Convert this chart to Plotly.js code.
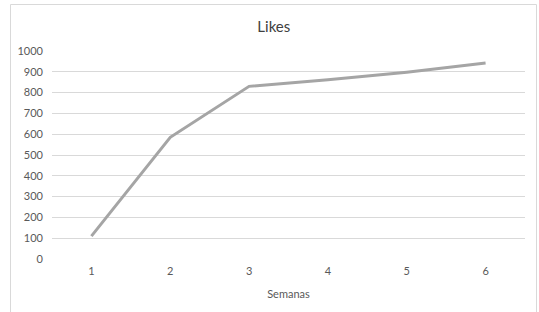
<!DOCTYPE html>
<html>
<head>
<meta charset="utf-8">
<script src="https://cdn.plot.ly/plotly-3.0.1.min.js"></script>
<style>html,body{margin:0;padding:0;background:#fff;}#chart{width:539px;height:312px;}</style>
</head>
<body>
<div id="chart"></div>
<script>
const semanas = [1, 2, 3, 4, 5, 6];
const likes = [110, 585, 830, 862, 898, 942];
const yTicks = [0, 100, 200, 300, 400, 500, 600, 700, 800, 900, 1000];

const trace = {
  x: semanas,
  y: likes,
  type: 'scatter',
  mode: 'lines',
  line: {color: '#a5a5a5', width: 3},
  hoverinfo: 'none'
};

const layout = {
  width: 539,
  height: 312,
  margin: {l: 52, r: 14, t: 51, b: 53},
  paper_bgcolor: '#ffffff',
  plot_bgcolor: '#ffffff',
  showlegend: false,
  font: {family: 'Lato, "Open Sans", sans-serif', color: '#595959', size: 11},
  title: {text: 'Likes', font: {size: 15, color: '#404040', family: 'Lato, "Open Sans", sans-serif'}, x: 0.508, xanchor: 'center', y: 0.915, yanchor: 'middle', xref: 'container', yref: 'container'},
  xaxis: {
    range: [0.5, 6.5],
    tickvals: semanas,
    ticktext: semanas.map(String),
    showgrid: false,
    zeroline: false,
    showline: false,
    ticks: '',
    ticklabelstandoff: 4,
    tickfont: {size: 11, color: '#595959'},
    title: {text: 'Semanas', font: {size: 11, color: '#595959'}, standoff: 14}
  },
  yaxis: {
    range: [0, 1000],
    tickvals: yTicks,
    ticktext: yTicks.map(String),
    showgrid: true,
    gridcolor: '#d9d9d9',
    gridwidth: 1,
    zeroline: false,
    showline: false,
    ticks: '',
    ticklabelstandoff: 8,
    tickfont: {size: 11, color: '#595959'}
  },
  shapes: [{
    type: 'rect', xref: 'paper', yref: 'paper',
    x0: -0.0877, x1: 1.0243, y0: -0.26, y1: 1.2236,
    line: {color: '#d9d9d9', width: 1}, fillcolor: 'rgba(0,0,0,0)', layer: 'below'
  }]
};

Plotly.newPlot('chart', [trace], layout, {displayModeBar: false, staticPlot: true});
</script>
</body>
</html>
